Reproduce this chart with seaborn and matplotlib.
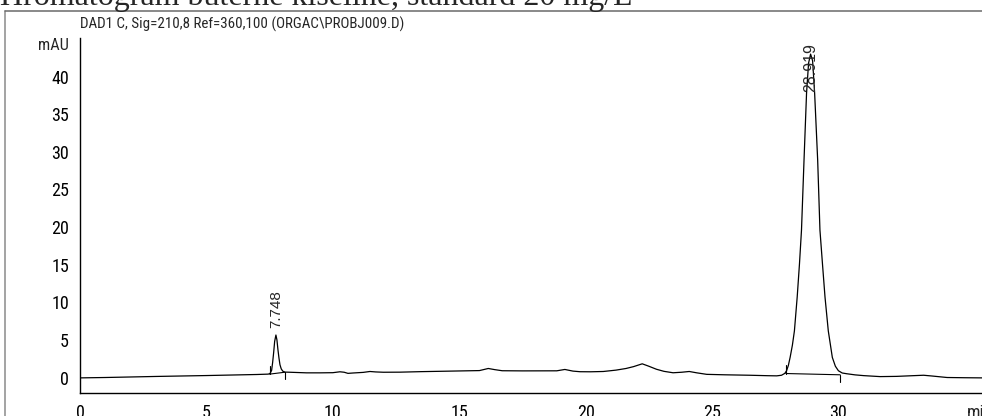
import matplotlib
matplotlib.use("Agg")
import matplotlib.pyplot as plt
import seaborn as sns
from matplotlib import font_manager
from matplotlib.lines import Line2D
from matplotlib.ticker import FixedLocator, MultipleLocator

# ── Data ──────────────────────────────────────────────────────────────────────
trace_time = [
    0.0, 1.0, 2.0, 3.0, 4.0, 5.0, 6.0, 7.0, 7.45,
    7.52, 7.58, 7.62, 7.66, 7.70, 7.75, 7.79, 7.83, 7.87, 7.91, 7.96, 8.02, 8.10, 8.30,
    8.96, 9.5, 10.0, 10.28, 10.45, 10.6, 10.8, 11.2, 11.47, 11.7, 12.0, 12.66, 13.5,
    14.5, 15.3, 15.8, 16.15, 16.4, 16.7, 17.5, 18.86, 19.18, 19.5, 19.78, 20.2, 20.7,
    21.2, 21.6, 21.9, 22.24, 22.5, 22.8, 23.1, 23.46, 23.8, 24.1, 24.4, 24.79, 25.5,
    26.5, 27.2, 27.56,
    27.75, 27.88, 27.95, 28.02, 28.09, 28.18, 28.26, 28.37, 28.46, 28.54, 28.64, 28.74,
    28.82, 28.90, 28.98, 29.06, 29.18, 29.27, 29.37, 29.47, 29.60, 29.76, 29.88, 30.0,
    30.15, 30.33, 30.66,
    31.0, 31.65, 32.3, 33.0, 33.37, 33.7, 34.3, 35.0, 35.7,
]
trace_mau = [
    -0.05, 0.0, 0.07, 0.14, 0.2, 0.26, 0.33, 0.4, 0.45,
    0.55, 0.95, 2.0, 3.3, 4.8, 5.65, 5.0, 3.7, 2.6, 1.7, 1.15, 0.85, 0.72, 0.7,
    0.62, 0.62, 0.64, 0.76, 0.7, 0.55, 0.6, 0.68, 0.8, 0.74, 0.7, 0.71, 0.78,
    0.84, 0.89, 0.92, 1.2, 1.05, 0.9, 0.88, 0.89, 1.07, 0.85, 0.77, 0.76, 0.8,
    0.98, 1.2, 1.45, 1.82, 1.5, 1.1, 0.82, 0.63, 0.7, 0.8, 0.62, 0.42, 0.36,
    0.3, 0.24, 0.22,
    0.3, 0.55, 0.9, 1.6, 2.67, 4.3, 6.2, 10.7, 15.1, 19.6, 28.9, 37.8,
    41.8, 43.0, 42.1, 37.8, 28.9, 19.6, 15.1, 10.7, 6.2, 2.67, 1.5, 0.9,
    0.6, 0.5, 0.35,
    0.25, 0.12, 0.15, 0.25, 0.3, 0.2, 0.0, -0.03, -0.05,
]

peak_rt = [7.748, 28.919]
peak_labels = ["7.748", "28.919"]
peak_height = [5.65, 43.0]

# integration baselines drawn under each peak
base_start_t = [7.50, 27.92]
base_start_y = [0.45, 0.53]
base_end_t = [8.10, 30.07]
base_end_y = [0.70, 0.36]

y_ticks = [0, 5, 10, 15, 20, 25, 30, 35, 40]
x_ticks = [0, 5, 10, 15, 20, 25, 30]

title = "Hromatogram buterne kiseline, standard 20 mg/L"
signal_info = r"DAD1 C, Sig=210,8 Ref=360,100 (ORGAC\PROBJ009.D)"

# ── Style / fonts ─────────────────────────────────────────────────────────────
sns.set_style("white")

# look for a narrow sans face (the original uses Arial Narrow)
narrow, scale = "Liberation Sans", 0.82
cands = sorted({f.name for f in font_manager.fontManager.ttflist
                if ("Narrow" in f.name or "Condensed" in f.name)
                and "Serif" not in f.name and "Mono" not in f.name})
for pref in ["Liberation Sans Narrow", "Arial Narrow", "Roboto Condensed",
             "Open Sans Condensed", "Noto Sans Condensed", "DejaVu Sans Condensed"]:
    if pref in cands:
        narrow, scale = pref, 1.0
        break
else:
    if cands:
        narrow, scale = cands[0], 1.0
plt.rcParams["font.family"] = [narrow, "DejaVu Sans"]

W, H = 982, 416
fig = plt.figure(figsize=(W / 100, H / 100), dpi=100)
ax = fig.add_axes([80 / W, 22.7 / H, (W - 80) / W, 355 / H])

# ── Trace ─────────────────────────────────────────────────────────────────────
sns.lineplot(x=trace_time, y=trace_mau, ax=ax, color="black", lw=0.9,
             estimator=None, sort=False)

# integration baselines + start/end markers
for t0, y0, t1, y1 in zip(base_start_t, base_start_y, base_end_t, base_end_y):
    ax.plot([t0, t1], [y0, y1], color="black", lw=0.8)
    ax.plot([t0, t0], [y0, y0 + 1.1], color="black", lw=0.8)
    ax.plot([t1, t1], [y1, y1 - 0.9], color="black", lw=0.8)

ax.set_xlim(0, (W - 80) / 25.28)
ax.set_ylim(-2.1, 45.1)

# peak retention-time labels
for rt, h, lab in zip(peak_rt, peak_height, peak_labels):
    if h > 0.8 * ax.get_ylim()[1]:
        ax.annotate(lab, xy=(rt, 1.0), xycoords=("data", "axes fraction"),
                    xytext=(0, -3.5), textcoords="offset points", rotation=90,
                    ha="center", va="top", fontsize=11.5, family="Liberation Sans")
    else:
        ax.annotate(lab, xy=(rt, h), xytext=(0, 5), textcoords="offset points",
                    rotation=90, ha="center", va="bottom", fontsize=11,
                    family="Liberation Sans")

# ── Axes ──────────────────────────────────────────────────────────────────────
sns.despine(ax=ax, top=True, right=True)
for s in ["left", "bottom"]:
    ax.spines[s].set_linewidth(1.0)
    ax.spines[s].set_color("black")

tick_size = 13 * scale
ax.yaxis.set_major_locator(FixedLocator(y_ticks))
ax.yaxis.set_minor_locator(MultipleLocator(1))
ax.xaxis.set_major_locator(FixedLocator(x_ticks))
ax.xaxis.set_minor_locator(MultipleLocator(1))
ax.set_yticklabels([str(v) for v in y_ticks])
ax.set_xticklabels([str(v) for v in x_ticks])
ax.tick_params(axis="both", which="both", direction="out", color="black",
               width=0.8, labelsize=tick_size, labelcolor="black")
ax.tick_params(axis="y", which="major", length=5.5, pad=2.5)
ax.tick_params(axis="y", which="minor", length=3.2)
ax.tick_params(axis="x", which="major", length=5, pad=3)
ax.tick_params(axis="x", which="minor", length=3.2)
ax.set_xlabel("")
ax.set_ylabel("")

ax.annotate("mAU", xy=(0, 44.2), xycoords=("axes fraction", "data"),
            xytext=(-8, 0), textcoords="offset points", ha="right", va="center",
            fontsize=tick_size * 0.9)
ax.annotate("min", xy=(35.1, 0), xycoords=("data", "axes fraction"),
            xytext=(0, -8), textcoords="offset points", ha="left", va="top",
            fontsize=tick_size)

# ── Page text and frame ───────────────────────────────────────────────────────
fig.text(0, 1 - 4.5 / H, title, family="Liberation Serif", fontsize=23,
         va="baseline", ha="left")
fig.text(80 / W, 1 - 28.3 / H, signal_info, fontsize=10.8 * scale,
         va="baseline", ha="left")
fig.add_artist(Line2D([5 / W, 5 / W], [0, 1 - 11 / H], transform=fig.transFigure,
                      color="#8a8a8a", lw=1.1))
fig.add_artist(Line2D([5 / W, 1], [1 - 11 / H, 1 - 11 / H], transform=fig.transFigure,
                      color="#6a6a6a", lw=1.1))

fig.savefig("out.png", dpi=100)
